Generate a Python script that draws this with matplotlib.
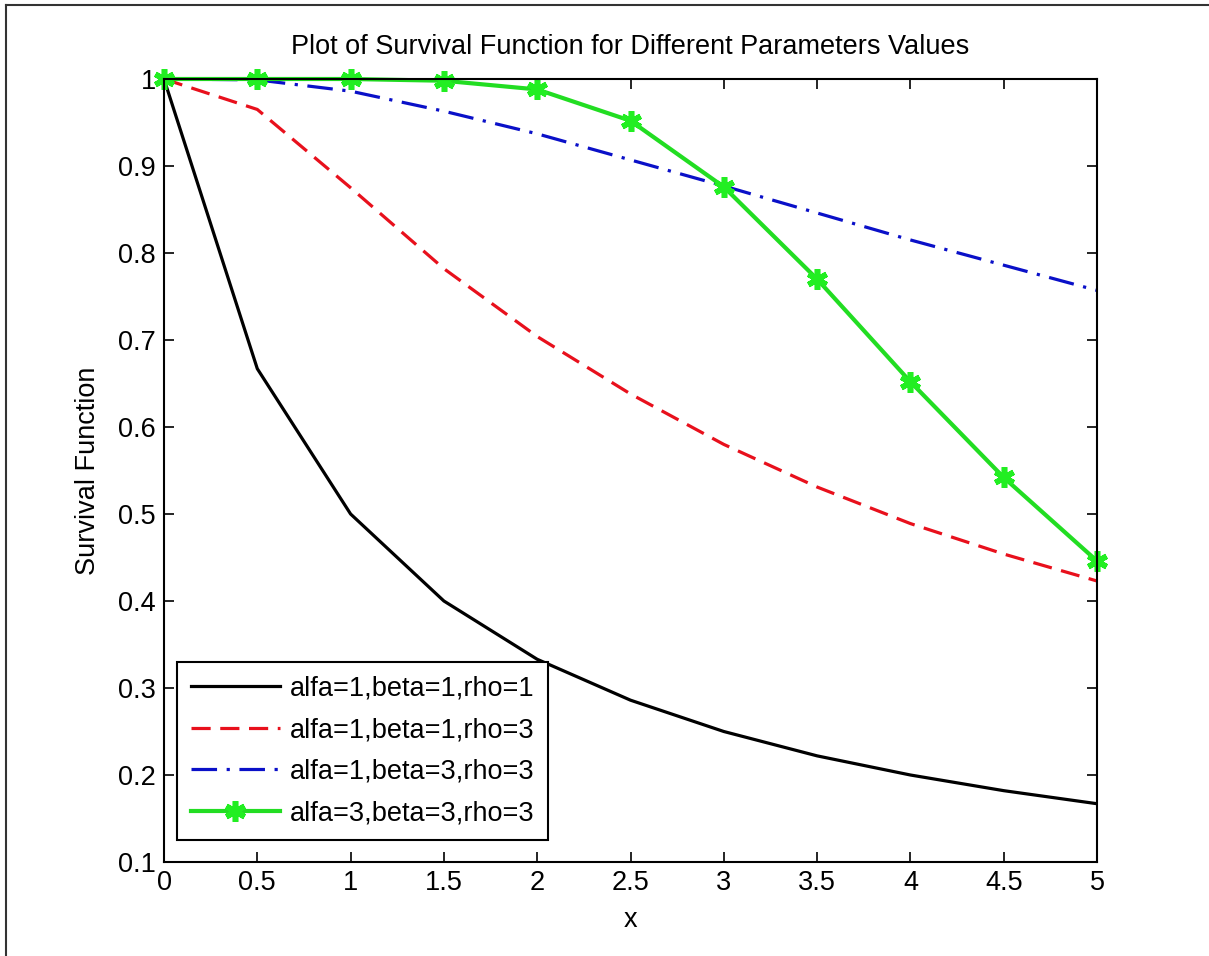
import matplotlib.pyplot as plt
from matplotlib.lines import Line2D

x = [0, 0.5, 1, 1.5, 2, 2.5, 3, 3.5, 4, 4.5, 5]
s_111 = [1.0, 0.667, 0.5, 0.4, 0.333, 0.286, 0.25, 0.222, 0.2, 0.182, 0.167]
s_113 = [1.0, 0.965, 0.875, 0.782, 0.704, 0.638, 0.58, 0.531, 0.489, 0.454, 0.423]
s_133 = [1.0, 0.999, 0.986, 0.963, 0.937, 0.907, 0.877, 0.846, 0.815, 0.786, 0.757]
s_333 = [1.0, 1.0, 1.0, 0.998, 0.988, 0.952, 0.876, 0.77, 0.652, 0.542, 0.446]
labels = ['alfa=1,beta=1,rho=1', 'alfa=1,beta=1,rho=3',
          'alfa=1,beta=3,rho=3', 'alfa=3,beta=3,rho=3']
xticks = [0, 0.5, 1, 1.5, 2, 2.5, 3, 3.5, 4, 4.5, 5]
yticks = [0.1, 0.2, 0.3, 0.4, 0.5, 0.6, 0.7, 0.8, 0.9, 1]

plt.rcParams['font.family'] = ['Liberation Sans', 'DejaVu Sans']
fs = 19.5

fig = plt.figure(figsize=(12.09, 9.56), dpi=100)
ax = fig.add_axes([164 / 1209, 1 - 862 / 956, (1097 - 164) / 1209, (862 - 79) / 956])

ax.plot(x, s_111, color='k', lw=2.3, label=labels[0])
ax.plot(x, s_113, color='#e8101c', lw=2.3, ls=(0, (6, 3)), label=labels[1])
ax.plot(x, s_133, color='#0a10c8', lw=2.3, ls=(0, (8, 3, 1, 3)), label=labels[2])
ax.plot(x, s_333, color='#22dd22', lw=3, marker=(6, 2, 0), ms=15, mew=4,
        mec='#22ee22', label=labels[3], clip_on=False)

ax.set_xlim(0, 5)
ax.set_ylim(0.1, 1)
ax.set_xticks(xticks)
ax.set_xticklabels([f'{t:g}' for t in xticks], fontsize=fs)
ax.set_yticks(yticks)
ax.set_yticklabels([f'{t:g}' for t in yticks], fontsize=fs)
ax.tick_params(direction='in', length=7, width=1.2, top=True, right=True, pad=6)
for sp in ax.spines.values():
    sp.set_linewidth(1.5)

ax.set_title('Plot of Survival Function for Different Parameters Values', fontsize=fs, pad=18)
ax.set_xlabel('x', fontsize=fs, labelpad=8)
ax.set_ylabel('Survival Function', fontsize=fs, labelpad=12)

leg = ax.legend(loc='lower left', bbox_to_anchor=(13 / 933, 22 / 783), fontsize=fs,
                frameon=True, fancybox=False, edgecolor='k', framealpha=1,
                handlelength=3.3, borderaxespad=0, labelspacing=0.58,
                handletextpad=0.35, borderpad=0.5)
leg.get_frame().set_linewidth(1.5)

# border of the screenshot
fig.add_artist(Line2D([6 / 1209, 6 / 1209], [0, 1 - 5 / 956], color='#333333', lw=1.5))
fig.add_artist(Line2D([6 / 1209, 1], [1 - 5 / 956, 1 - 5 / 956], color='#333333', lw=1.5))

fig.savefig('out.png', dpi=100)
